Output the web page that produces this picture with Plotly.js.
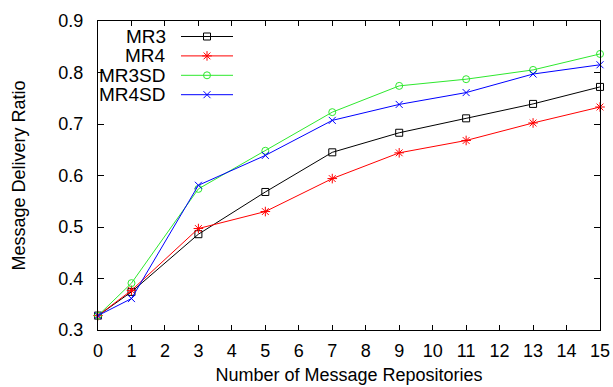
<!DOCTYPE html>
<html>
<head>
<meta charset="utf-8">
<script src="https://cdn.plot.ly/plotly-3.0.1.min.js"></script>
<style>html,body{margin:0;padding:0;background:#fff;}#chart{width:613px;height:387px;}</style>
</head>
<body>
<div id="chart"></div>
<script>
var xRepos = [0, 1, 3, 5, 7, 9, 11, 13, 15];
var seriesNames = ["MR3", "MR4", "MR3SD", "MR4SD"];
var mr3   = [0.328, 0.374, 0.486, 0.568, 0.645, 0.683, 0.711, 0.739, 0.772];
var mr4   = [0.328, 0.377, 0.497, 0.530, 0.594, 0.644, 0.668, 0.702, 0.733];
var mr3sd = [0.328, 0.391, 0.574, 0.648, 0.723, 0.774, 0.787, 0.805, 0.836];
var mr4sd = [0.328, 0.361, 0.581, 0.639, 0.707, 0.738, 0.761, 0.797, 0.815];
var xTickVals = [0,1,2,3,4,5,6,7,8,9,10,11,12,13,14,15];
var yTickVals = [0.3,0.4,0.5,0.6,0.7,0.8,0.9];

var colors = ["#000000", "#ff0000", "#2ee82e", "#0000ff"];
var symbols = ["square-open", "asterisk-open", "circle-open", "x-thin-open"];
var sizes = [7, 8, 7, 7];
var allY = [mr3, mr4, mr3sd, mr4sd];
var FONT = "Liberation Sans, Arial, sans-serif";

var traces = [];
for (var i = 0; i < 4; i++) {
  traces.push({
    x: xRepos, y: allY[i], type: "scatter", mode: "lines+markers",
    name: seriesNames[i], cliponaxis: false, showlegend: false,
    line: {color: colors[i], width: 1},
    marker: {symbol: symbols[i], size: sizes[i], color: colors[i], line: {color: colors[i], width: 1}}
  });
}

// custom gnuplot-style legend (text left, sample right) in overlay axes
var legRows = [0, 1, 2, 3];
var shapes = [];
var annotations = [];
var px2x = function(p){ return (p - 98) / 502; };
var px2y = function(p){ return 1 - (p - 20.5) / 309; };
for (var k = 0; k < 4; k++) {
  var yy = px2y(36 + 19.4 * legRows[k]);
  annotations.push({xref: "paper", yref: "paper", x: px2x(168), y: yy, xanchor: "right", yanchor: "middle",
    text: seriesNames[k], showarrow: false, font: {family: FONT, size: 19, color: "#000"}});
  shapes.push({type: "line", xref: "paper", yref: "paper", x0: px2x(181), x1: px2x(233), y0: yy, y1: yy,
    line: {color: colors[k], width: 1}});
  traces.push({x: [px2x(207)], y: [yy], xaxis: "x2", yaxis: "y2", type: "scatter", mode: "markers",
    showlegend: false, hoverinfo: "skip", cliponaxis: false,
    marker: {symbol: symbols[k], size: sizes[k], color: colors[k], line: {color: colors[k], width: 1}}});
}

var layout = {
  width: 613, height: 387,
  margin: {l: 98, r: 13, t: 21, b: 57, pad: 0},
  paper_bgcolor: "#fff", plot_bgcolor: "#fff",
  showlegend: false,
  font: {family: FONT, size: 18, color: "#000"},
  xaxis: {
    range: [0, 15], tickvals: xTickVals, ticktext: xTickVals.map(String),
    ticks: "inside", ticklen: 5, tickcolor: "#000", tickwidth: 1,
    showline: true, linecolor: "#000", linewidth: 1, mirror: "ticks",
    showgrid: false, zeroline: false,
    tickfont: {family: FONT, size: 18}, ticklabelstandoff: 4,
    title: {text: "Number of Message Repositories", font: {family: FONT, size: 18}, standoff: 8}
  },
  yaxis: {
    range: [0.3, 0.9], tickvals: yTickVals, ticktext: yTickVals.map(function(v){return v.toFixed(1);}),
    ticks: "inside", ticklen: 6, tickcolor: "#000", tickwidth: 1,
    showline: true, linecolor: "#000", linewidth: 1, mirror: "ticks",
    showgrid: false, zeroline: false,
    tickfont: {family: FONT, size: 18}, ticklabelstandoff: 10,
    title: {text: "Message Delivery Ratio", font: {family: FONT, size: 18}, standoff: 28}
  },
  xaxis2: {overlaying: "x", range: [0, 1], visible: false, fixedrange: true},
  yaxis2: {overlaying: "y", range: [0, 1], visible: false, fixedrange: true},
  shapes: shapes,
  annotations: annotations
};

Plotly.newPlot("chart", traces, layout, {staticPlot: true, displayModeBar: false});
</script>
</body>
</html>
